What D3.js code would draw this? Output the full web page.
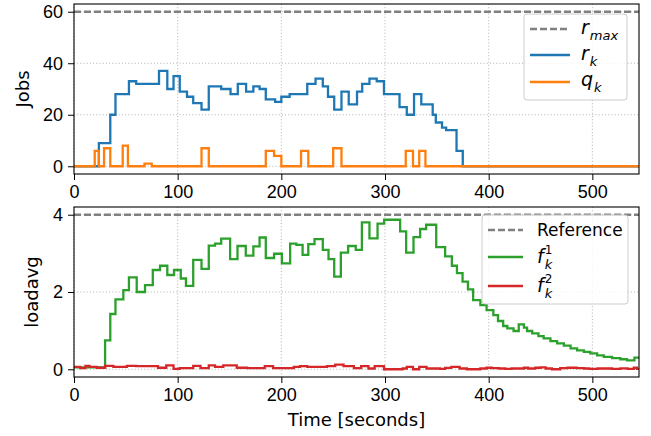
<!DOCTYPE html>
<html>
<head>
<meta charset="utf-8">
<script src="https://cdn.jsdelivr.net/npm/d3@7"></script>
<style>
  body { margin: 0; background: #fff; }
  svg { font-family: "DejaVu Sans", sans-serif; }
</style>
</head>
<body>
<div id="chart"></div>
<script>
// top panel: jobs
const rMax = 60;
const rkTime = [0, 24, 35, 40, 53, 60, 82, 90, 96, 102, 109, 115, 123, 130, 142, 151, 158, 166, 173, 179, 185, 194, 200, 208, 225, 233, 240, 245, 251, 258, 265, 273, 278, 285, 292, 299, 314, 321, 328, 335, 346, 349, 355, 359, 369, 375];
const rkVal = [0, 9, 20, 28, 33, 32, 37, 30, 35, 29, 27, 24.5, 22, 31, 30, 28, 32, 29, 31, 30, 26, 25, 27, 28, 32, 34, 31, 27, 22, 29, 24, 29, 32, 34, 33, 28, 23, 20, 28, 24, 20, 17, 15, 14, 6, 0];
const qkTime = [0, 20, 24, 29, 35, 47, 52, 68, 75, 123, 130, 185, 193, 200, 219, 226, 250, 258, 320, 327, 333, 339];
const qkVal = [0, 6, 0, 7, 0, 8, 0, 1, 0, 7, 0, 6, 4, 0, 6, 0, 7, 0, 6, 0, 6, 0];

// bottom panel: loadavg
const loadRef = 4;
const f1Time = [0, 30, 35, 40, 47.6, 53, 60.5, 68.5, 76, 83, 90, 96.5, 103, 108, 115, 123, 130, 136, 142, 150.6, 157.7, 165.7, 173, 179, 185, 193, 200.5, 208.5, 214.5, 220.5, 226, 232, 240, 245.5, 251, 257.4, 264.4, 271.8, 277.7, 285, 292.8, 299.2, 314.6, 320.4, 327.5, 333.9, 339.7, 349.4, 358, 364.5, 369.4, 374.8, 380, 385, 392, 398, 404.5, 409, 414, 418, 424, 429, 434, 437, 442, 448, 453, 459.6, 466, 472.5, 479, 485.3, 491.8, 498, 504.6, 511, 519, 527, 533.5, 540.6];
const f1Val = [0.05, 0.75, 1.43, 1.81, 2.05, 2.38, 2.0, 2.18, 2.57, 2.68, 2.44, 2.57, 2.35, 2.16, 2.83, 2.6, 3.2, 3.25, 3.38, 2.85, 3.19, 2.94, 3.18, 3.41, 2.88, 2.99, 2.74, 3.25, 3.22, 2.96, 3.24, 3.37, 3.09, 2.85, 2.4, 3.02, 3.19, 3.09, 3.8, 3.39, 3.77, 3.87, 3.57, 3.02, 3.42, 3.63, 3.74, 3.16, 2.92, 2.68, 2.49, 2.27, 2.07, 1.79, 1.66, 1.53, 1.4, 1.25, 1.12, 1.06, 0.99, 1.16, 1.08, 0.99, 0.93, 0.86, 0.8, 0.73, 0.67, 0.61, 0.54, 0.49, 0.45, 0.41, 0.36, 0.32, 0.29, 0.26, 0.23, 0.3];
const f2Time = [0, 6, 11, 15, 22, 30, 38, 51, 60, 81, 89, 96, 102, 115, 122, 130, 136, 144, 157, 167, 184, 192, 199, 212, 218, 225, 244, 252, 260, 270, 277, 284, 290, 299, 317, 321, 327, 333, 340, 353, 358, 364, 372, 379, 392, 398, 403, 410, 416, 422, 434, 438, 445, 450, 455, 461, 469, 476, 485, 492, 497, 505, 511, 519, 527, 534, 540, 543];
const f2Val = [0.06, 0.03, 0.09, 0.06, 0.04, 0.09, 0.06, 0.09, 0.08, 0.04, 0.10, 0.01, 0.03, 0.09, 0.03, 0.10, 0.06, 0.10, 0.04, 0.03, 0.08, 0.03, 0.03, 0.06, 0.08, 0.06, 0.08, 0.12, 0.08, 0.03, 0.08, 0.02, 0.08, 0.0, 0.02, 0.06, 0.0, 0.06, 0.02, 0.01, 0.035, 0.06, 0.02, 0.0, 0.02, 0.04, 0.03, 0.02, 0.01, 0.02, 0.04, 0.02, 0.04, 0.05, 0.02, 0.0, 0.03, 0.04, 0.03, 0.02, 0.01, 0.02, 0.02, 0.01, 0.025, 0.01, 0.04, 0.01];

const xTicks = [0, 100, 200, 300, 400, 500];
const topTicks = [0, 20, 40, 60];
const botTicks = [0, 2, 4];
const tEnd = 545;

const width = 651, height = 436;
const left = 74, right = 639;
const tickFont = "18px";

const svg = d3.select("#chart").append("svg")
  .attr("width", width).attr("height", height);

const x = d3.scaleLinear().domain([0, tEnd]).range([left, right]);
const yTop = d3.scaleLinear().domain([-3, 63]).range([174, 4]);
const yBot = d3.scaleLinear().domain([-0.2, 4.2]).range([377, 207]);

const toSeries = (ts, vs) => {
  const pts = ts.map((t, i) => [t, vs[i]]);
  pts.push([tEnd, vs[vs.length - 1]]);
  return pts;
};

const panel = (y, yTicks, id) => {
  const [y1, y0] = y.range();
  const g = svg.append("g");

  g.append("clipPath").attr("id", id)
    .append("rect").attr("x", left).attr("y", y0)
    .attr("width", right - left).attr("height", y1 - y0);

  // grid
  const grid = g.append("g").attr("stroke", "#a8a8a8")
    .attr("stroke-width", 0.9).attr("stroke-dasharray", "1,2.2");
  grid.selectAll(".gx").data(xTicks).join("line")
    .attr("x1", d => x(d)).attr("x2", d => x(d))
    .attr("y1", y0).attr("y2", y1);
  grid.selectAll(".gy").data(yTicks).join("line")
    .attr("x1", left).attr("x2", right)
    .attr("y1", d => y(d)).attr("y2", d => y(d));

  const xa = g.append("g").attr("transform", `translate(0,${y1})`)
    .call(d3.axisBottom(x).tickValues(xTicks).tickFormat(d3.format("d")).tickSize(6).tickPadding(5));
  const ya = g.append("g").attr("transform", `translate(${left},0)`)
    .call(d3.axisLeft(y).tickValues(yTicks).tickFormat(d3.format("d")).tickSize(6).tickPadding(5));
  [xa, ya].forEach(a => {
    a.select(".domain").remove();
    a.selectAll("text").style("font-size", tickFont).attr("fill", "#000");
    a.selectAll("line").attr("stroke", "#000");
  });

  const plot = g.append("g").attr("clip-path", `url(#${id})`);
  g.append("rect").attr("x", left).attr("y", y0)
    .attr("width", right - left).attr("height", y1 - y0)
    .attr("fill", "none").attr("stroke", "#000").attr("stroke-width", 1.1);
  return { g, plot };
};

const stepLine = (y) => d3.line()
  .x(d => x(d[0])).y(d => y(d[1])).curve(d3.curveStepAfter);

// ---- top panel
const topPanel = panel(yTop, topTicks, "clipTop");
topPanel.plot.append("line")
  .attr("x1", left).attr("x2", right)
  .attr("y1", yTop(rMax)).attr("y2", yTop(rMax))
  .attr("stroke", "#808080").attr("stroke-width", 2.4).attr("stroke-dasharray", "7,3");
topPanel.plot.append("path").datum(toSeries(rkTime, rkVal))
  .attr("d", stepLine(yTop)).attr("fill", "none")
  .attr("stroke", "#1f77b4").attr("stroke-width", 2.3);
topPanel.plot.append("path").datum(toSeries(qkTime, qkVal))
  .attr("d", stepLine(yTop)).attr("fill", "none")
  .attr("stroke", "#ff7f0e").attr("stroke-width", 2.3);

// ---- bottom panel
const botPanel = panel(yBot, botTicks, "clipBot");
botPanel.plot.append("line")
  .attr("x1", left).attr("x2", right)
  .attr("y1", yBot(loadRef)).attr("y2", yBot(loadRef))
  .attr("stroke", "#808080").attr("stroke-width", 2.4).attr("stroke-dasharray", "7,3");
botPanel.plot.append("path").datum(toSeries(f1Time, f1Val))
  .attr("d", stepLine(yBot)).attr("fill", "none")
  .attr("stroke", "#2ca02c").attr("stroke-width", 2.3);
botPanel.plot.append("path").datum(toSeries(f2Time, f2Val))
  .attr("d", stepLine(yBot)).attr("fill", "none")
  .attr("stroke", "#d62728").attr("stroke-width", 2.3);

// axis labels
svg.append("text").attr("transform", "translate(29,89) rotate(-90)")
  .attr("text-anchor", "middle").style("font-size", "18px").text("Jobs");
svg.append("text").attr("transform", "translate(38,292) rotate(-90)")
  .attr("text-anchor", "middle").style("font-size", "18px").text("loadavg");
svg.append("text").attr("x", (left + right) / 2).attr("y", 426)
  .attr("text-anchor", "middle").style("font-size", "18px").text("Time [seconds]");

// ---- legends
const legendBox = (x0, y0, w, h) => svg.append("rect")
  .attr("x", x0).attr("y", y0).attr("width", w).attr("height", h)
  .attr("rx", 3).attr("fill", "#fff").attr("fill-opacity", 0.8)
  .attr("stroke", "#cccccc").attr("stroke-width", 1);

const legendLine = (x0, x1, y, color, dashed) => svg.append("line")
  .attr("x1", x0).attr("x2", x1).attr("y1", y).attr("y2", y)
  .attr("stroke", color).attr("stroke-width", 2.4)
  .attr("stroke-dasharray", dashed ? "7,3" : null);

const mathText = (tx, ty, base, sub, sup) => {
  const t = svg.append("text").attr("x", tx).attr("y", ty)
    .style("font-size", "19px").style("font-style", "italic").text(base);
  const w = t.node().getComputedTextLength();
  if (sub) svg.append("text").attr("x", tx + w + 1).attr("y", ty + 6)
    .style("font-size", "13px").style("font-style", "italic").text(sub);
  if (sup) svg.append("text").attr("x", tx + w + 1).attr("y", ty - 9)
    .style("font-size", "12px").text(sup);
};

legendBox(524, 14, 103, 86);
legendLine(530, 570, 29, "#808080", true);
legendLine(530, 570, 55, "#1f77b4");
legendLine(530, 570, 82, "#ff7f0e");
mathText(581, 34, "r", "max");
mathText(581, 60, "r", "k");
mathText(581, 86, "q", "k");

legendBox(482, 215, 146, 89);
legendLine(488, 523, 230, "#808080", true);
legendLine(488, 523, 257, "#2ca02c");
legendLine(488, 523, 286, "#d62728");
svg.append("text").attr("x", 537).attr("y", 236)
  .style("font-size", "17px").text("Reference");
mathText(537, 263, "f", "k", "1");
mathText(537, 292, "f", "k", "2");
</script>
</body>
</html>
